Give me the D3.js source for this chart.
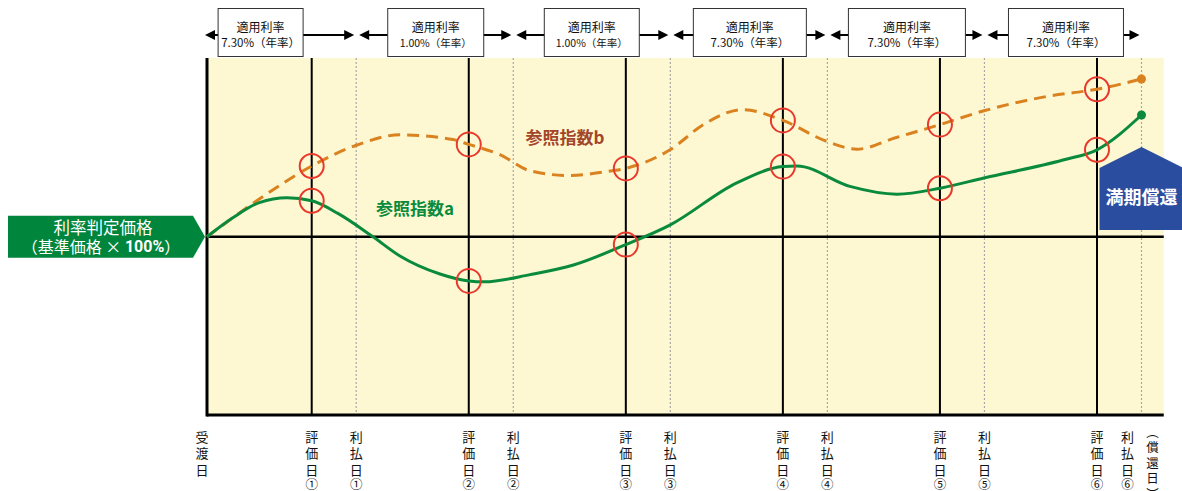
<!DOCTYPE html>
<html><head><meta charset="utf-8">
<script src="https://cdn.jsdelivr.net/npm/d3@7"></script>
<style>
body{margin:0;background:#fff}
svg{display:block;font-family:"Noto Sans CJK JP","Noto Sans",sans-serif}
</style>
</head><body>
<svg id="c" width="1182" height="491"></svg>
<script>
// ---- data (time in months from 受渡日, index value in % of 基準価格) ----
const evalT = [4, 10, 16, 22, 28, 34];
const payT = [5.7, 11.7, 17.7, 23.7, 29.7, 35.7];
const circled = ["①", "②", "③", "④", "⑤", "⑥"];
const rateLabels = ["7.30%（年率）", "1.00%（年率）", "1.00%（年率）", "7.30%（年率）", "7.30%（年率）", "7.30%（年率）"];
const aT = [0, 1, 2, 3.06, 4, 5, 6.34, 7.37, 8.9, 10, 10.6, 12.34, 14, 16, 17.7, 20.24, 22, 22.54, 24.56, 26.36, 28, 29.68, 32.7, 34, 35.7];
const aV = [100, 103.2, 105.7, 106.5, 106.0, 103.9, 100, 96.8, 93.8, 92.65, 92.5, 93.7, 95.3, 98.7, 102, 109, 111.7, 111.8, 108.4, 107.1, 108.1, 109.8, 112.8, 114.5, 120.3];
const bT = [0, 2, 4, 5.73, 7.37, 9.4, 10, 11.19, 12.34, 13.87, 15.13, 16, 17.69, 19, 20.47, 22, 23.68, 24.83, 26.3, 28, 29.68, 32.09, 34, 35.7];
const bV = [100, 106.3, 111.8, 115.3, 117, 116.2, 115.4, 113.7, 111, 110.2, 110.8, 111.4, 114.5, 118.8, 121.2, 119.4, 115.9, 114.6, 116.5, 118.7, 121, 123.4, 124.6, 126.3];

// ---- layout ----
const svg = d3.select("#c");
const x = d3.scaleLinear().domain([0, 34]).range([207, 1097]);
const y = d3.scaleLinear().domain([70.3, 129.8]).range([415, 58]);
const xEnd = 36.55;
const green = "#0a8a3c", orange = "#d9821f", red = "#e8392c", blue = "#2a4d9f";

// plot background
svg.append("rect").attr("x", x(0)).attr("y", y(129.8)).attr("width", x(xEnd) - x(0)).attr("height", y(70.3) - y(129.8)).attr("fill", "#fdf8d2");

// payment (dotted) lines
svg.selectAll(".pay").data(payT).join("line")
  .attr("x1", d => x(d)).attr("x2", d => x(d)).attr("y1", y(129.8)).attr("y2", y(70.3))
  .attr("stroke", "#a8a8a8").attr("stroke-width", 1.2).attr("stroke-dasharray", "2,2");
// evaluation (solid) lines
svg.selectAll(".ev").data(evalT).join("line")
  .attr("x1", d => x(d)).attr("x2", d => x(d)).attr("y1", y(129.8)).attr("y2", y(70.3))
  .attr("stroke", "#000").attr("stroke-width", 2);
// baseline 100%
svg.append("line").attr("x1", x(0)).attr("x2", x(xEnd)).attr("y1", y(100)).attr("y2", y(100)).attr("stroke", "#000").attr("stroke-width", 2.5);
// axes borders
svg.append("line").attr("x1", x(0)).attr("x2", x(0)).attr("y1", y(129.8)).attr("y2", y(70.3) + 1.5).attr("stroke", "#000").attr("stroke-width", 3);
svg.append("line").attr("x1", x(0)).attr("x2", x(xEnd)).attr("y1", y(70.3)).attr("y2", y(70.3)).attr("stroke", "#000").attr("stroke-width", 3);

// curves
const line = d3.line().x(d => x(d[0])).y(d => y(d[1])).curve(d3.curveMonotoneX);
const aData = aT.map((t, i) => [t, aV[i]]);
const bData = bT.map((t, i) => [t, bV[i]]);
svg.append("path").attr("d", line(bData)).attr("fill", "none").attr("stroke", orange).attr("stroke-width", 3).attr("stroke-dasharray", "12,7");
svg.append("path").attr("d", line(aData)).attr("fill", "none").attr("stroke", green).attr("stroke-width", 3);
svg.append("circle").attr("cx", x(bT[bT.length - 1])).attr("cy", y(bV[bV.length - 1])).attr("r", 4.5).attr("fill", orange);
svg.append("circle").attr("cx", x(aT[aT.length - 1])).attr("cy", y(aV[aV.length - 1])).attr("r", 4.5).attr("fill", green);

// red circles on evaluation days
const evalPts = [];
evalT.forEach(t => {
  evalPts.push([t, aV[aT.indexOf(t)]]);
  evalPts.push([t, bV[bT.indexOf(t)]]);
});
svg.selectAll(".rc").data(evalPts).join("circle")
  .attr("cx", d => x(d[0])).attr("cy", d => y(d[1])).attr("r", 12)
  .attr("fill", "none").attr("stroke", red).attr("stroke-width", 2);

// series labels
svg.append("text").attr("x", 565).attr("y", 136).attr("text-anchor", "middle").attr("dominant-baseline", "central")
  .attr("font-size", 17).attr("font-weight", 700).attr("fill", "#a3452a").text("参照指数b");
svg.append("text").attr("x", 415).attr("y", 207).attr("text-anchor", "middle").attr("dominant-baseline", "central")
  .attr("font-size", 17).attr("font-weight", 700).attr("fill", green).text("参照指数a");

// left green arrow label
const by = y(100);
svg.append("path").attr("d", `M8,${by - 21}H193L${x(0) - 2},${by}L193,${by + 21}H8Z`).attr("fill", "#00853d");
svg.append("text").attr("x", 103).attr("y", by - 10).attr("text-anchor", "middle").attr("dominant-baseline", "central")
  .attr("font-size", 16.5).attr("fill", "#fff").text("利率判定価格");
const t2 = svg.append("text").attr("x", 101).attr("y", by + 9).attr("text-anchor", "middle").attr("dominant-baseline", "central")
  .attr("font-size", 16).attr("fill", "#fff");
t2.append("tspan").text("（基準価格 × ");
t2.append("tspan").attr("font-weight", 700).attr("font-family", "Roboto,sans-serif").text("100%");
t2.append("tspan").text("）");

// blue 満期償還 box
const px = x(payT[5]);
svg.append("path").attr("d", `M${px},147L${px + 42},168V230H${px - 42}V168Z`).attr("fill", blue);
svg.append("text").attr("x", px).attr("y", 196).attr("text-anchor", "middle").attr("dominant-baseline", "central")
  .attr("font-size", 18).attr("font-weight", 700).attr("fill", "#fff").text("満期償還");

// top rate periods with arrows
const periodStart = [0, ...payT.slice(0, 5)];
const boxW = [85, 96, 95, 113, 117, 115];
const boxShift = [-21, 1, 0, 1, 1, 3];
const ay = 35;
periodStart.forEach((s, i) => {
  const x1 = x(s) - (i === 0 ? 2 : -3), x2 = x(payT[i]) - 2;
  const g = svg.append("g");
  g.append("line").attr("x1", x1 + 6).attr("x2", x2 - 6).attr("y1", ay).attr("y2", ay).attr("stroke", "#000").attr("stroke-width", 2);
  g.append("path").attr("d", `M${x1},${ay}L${x1 + 10},${ay - 5}V${ay + 5}Z`).attr("fill", "#000");
  g.append("path").attr("d", `M${x2},${ay}L${x2 - 10},${ay - 5}V${ay + 5}Z`).attr("fill", "#000");
  const cx = (x(s) + x(payT[i])) / 2 + boxShift[i];
  g.append("rect").attr("x", cx - boxW[i] / 2).attr("y", 8.5).attr("width", boxW[i]).attr("height", 48)
    .attr("fill", "#fff").attr("stroke", "#333").attr("stroke-width", 1);
  g.append("text").attr("x", cx).attr("y", 26).attr("text-anchor", "middle").attr("dominant-baseline", "central")
    .attr("font-size", 12).attr("fill", "#111").text("適用利率");
  g.append("text").attr("x", cx).attr("y", 42).attr("text-anchor", "middle").attr("dominant-baseline", "central")
    .attr("font-size", rateLabels[i].startsWith("1.") ? 10.5 : 11.5).attr("fill", "#111").text(rateLabels[i]);
});

// x-axis vertical labels (stacked characters)
function vlabel(cx, chars, y0, step, fs) {
  const g = svg.append("g");
  chars.forEach((c, k) => {
    const isCirc = circled.includes(c);
    g.append("text").attr("x", cx).attr("y", isCirc ? 483.5 : y0 + k * step)
      .attr("text-anchor", "middle").attr("dominant-baseline", "central")
      .attr("font-size", isCirc ? 12.5 : fs).attr("fill", "#111").text(c);
  });
}
vlabel(x(0) - 5, ["受", "渡", "日"], 436, 16.5, 13);
evalT.forEach((t, i) => vlabel(x(t), ["評", "価", "日", circled[i]], 436, 16.5, 13));
payT.forEach((t, i) => vlabel(x(t) - (i === 5 ? 14 : 0), ["利", "払", "日", circled[i]], 436, 16.5, 13));
vlabel(x(payT[5]) + 11, ["︵", "償", "還", "日", "︶"], 431, 15.5, 12.5);
</script>
</body></html>
